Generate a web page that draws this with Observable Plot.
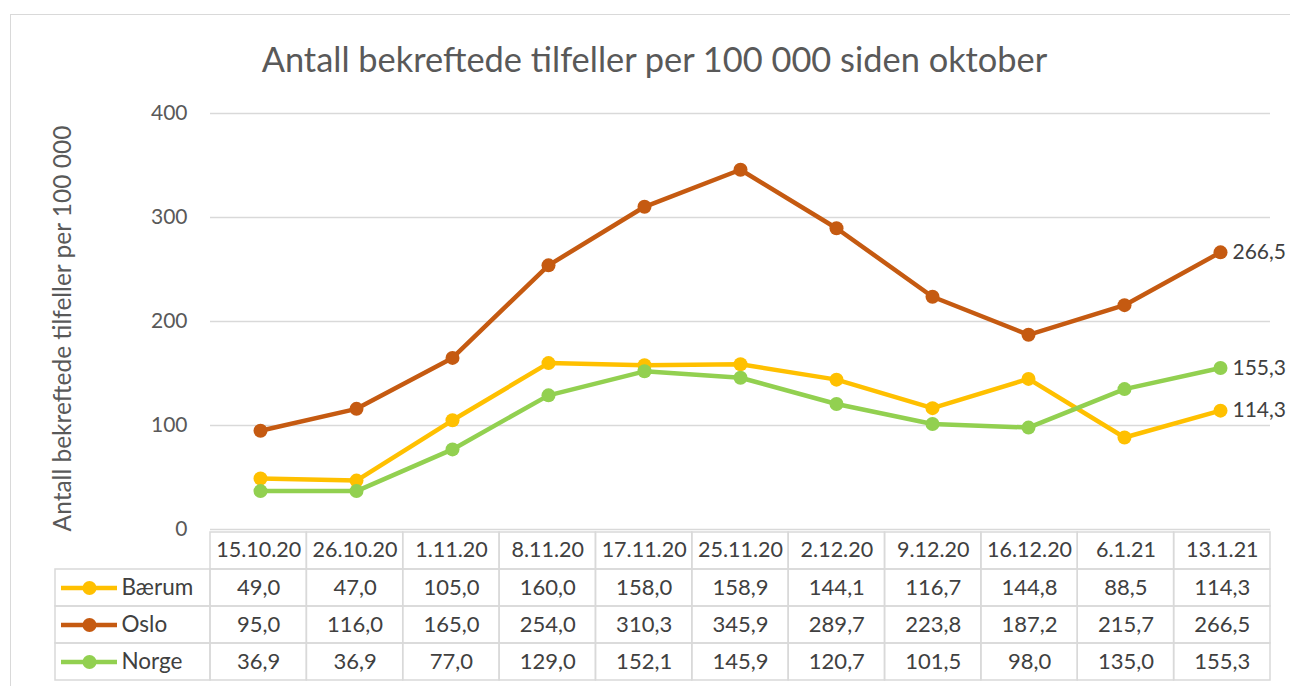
<!DOCTYPE html>
<html>
<head>
<meta charset="utf-8">
<script src="https://cdn.jsdelivr.net/npm/d3@7"></script>
<script src="https://cdn.jsdelivr.net/npm/@observablehq/plot@0.6"></script>
<style>
  html, body { margin: 0; padding: 0; background: #fff; }
  #wrap { position: relative; width: 1290px; height: 686px; overflow: hidden; font-family: Lato, sans-serif; }
  #frame { position: absolute; left: 10px; top: 14px; width: 1400px; height: 800px; border: 1.5px solid #d9d9d9; box-sizing: border-box; }
  #title { position: absolute; left: 0; top: 39px; width: 1309px; text-align: center; font-size: 34.4px; line-height: 40px; color: #595959; font-weight: 400; }
  #chart { position: absolute; left: 0; top: 90px; }
  #table { position: absolute; left: 0; top: 529px; }
</style>
</head>
<body>
<div id="wrap">
  <div id="frame"></div>
  <div id="title">Antall bekreftede tilfeller per 100 000 siden oktober</div>
  <div id="chart"></div>
  <div id="table"></div>
</div>
<script>
const dates = ["15.10.20","26.10.20","1.11.20","8.11.20","17.11.20","25.11.20","2.12.20","9.12.20","16.12.20","6.1.21","13.1.21"];
const series = ["Bærum","Oslo","Norge"];
const baerum = [49.0,47.0,105.0,160.0,158.0,158.9,144.1,116.7,144.8,88.5,114.3];
const oslo   = [95.0,116.0,165.0,254.0,310.3,345.9,289.7,223.8,187.2,215.7,266.5];
const norge  = [36.9,36.9,77.0,129.0,152.1,145.9,120.7,101.5,98.0,135.0,155.3];
const colors = ["#FFC000","#C55A11","#92D050"];
const yTicks = [0,100,200,300,400];
const yLabel = "Antall bekreftede tilfeller per 100 000";

const values = {"Bærum": baerum, "Oslo": oslo, "Norge": norge};
const data = series.flatMap(s => dates.map((d, i) => ({series: s, date: d, i, value: values[s][i]})));
const fmt = v => v.toFixed(1).replace(".", ",");

const W = 1290;
const mLeft = 210, mRight = 20;
const pxPerCol = (W - mLeft - mRight) / dates.length;

const chart = Plot.plot({
  width: W, height: 450,
  marginLeft: mLeft, marginRight: mRight, marginTop: 23, marginBottom: 11,
  style: {fontFamily: "Lato, sans-serif", fontSize: "21px", color: "#595959", background: "transparent", overflow: "visible"},
  x: {type: "point", domain: dates, padding: 0.5, axis: null},
  y: {domain: [0, 400], ticks: yTicks, label: null},
  color: {domain: series, range: colors},
  marks: [
    Plot.gridY(yTicks, {stroke: "#d9d9d9", strokeOpacity: 1, strokeWidth: 1.5}),
    Plot.axisY(yTicks, {tickSize: 0, tickPadding: 23, fontSize: 21, label: null, fill: "#595959"}),
    Plot.text([yLabel], {frameAnchor: "left", textAnchor: "middle", rotate: -90, dx: -147, dy: 7, fontSize: 24.5, fill: "#595959"}),
    Plot.line(data, {x: "date", y: "value", z: "series", stroke: "series", strokeWidth: 4.5}),
    Plot.dot(data, {x: "date", y: "value", fill: "series", r: 7}),
    Plot.text(data, Plot.selectLast({x: "date", y: "value", z: "series", text: d => fmt(d.value), dx: 12, textAnchor: "start", fontSize: 21, fill: "#404040"}))
  ]
});
document.getElementById("chart").appendChild(chart);

// data table below the chart
const legendPx = 155;
const L = legendPx / pxPerCol;
const headerKey = " ";
const headerCells = dates.map((d, i) => ({date: d, i}));
const legendCells = series.map(s => ({series: s}));
const tbl = Plot.plot({
  width: W, height: 155,
  marginLeft: mLeft - legendPx, marginRight: mRight, marginTop: 1, marginBottom: 3,
  style: {fontFamily: "Lato, sans-serif", fontSize: "22px", background: "transparent", overflow: "visible"},
  x: {domain: [-L, dates.length], axis: null},
  y: {type: "band", domain: [headerKey, ...series], padding: 0, axis: null},
  color: {domain: series, range: colors},
  marks: [
    Plot.barX(headerCells, {x1: d => d.i, x2: d => d.i + 1, y: () => headerKey, fill: "none", stroke: "#d9d9d9", strokeWidth: 1.5}),
    Plot.barX(data, {x1: d => d.i, x2: d => d.i + 1, y: "series", fill: "none", stroke: "#d9d9d9", strokeWidth: 1.5}),
    Plot.barX(legendCells, {x1: () => -L, x2: () => 0, y: "series", fill: "none", stroke: "#d9d9d9", strokeWidth: 1.5}),
    Plot.text(headerCells, {x: d => d.i + 0.5, y: () => headerKey, text: "date", fill: "#404040", fontSize: 21.5, dy: -1}),
    Plot.text(data, {x: d => d.i + 0.5, y: "series", text: d => fmt(d.value), fill: "#404040", fontSize: 22}),
    Plot.ruleY(legendCells, {y: "series", x1: () => -L + 6 / pxPerCol, x2: () => -L + 62 / pxPerCol, stroke: "series", strokeWidth: 4.5}),
    Plot.dot(legendCells, {y: "series", x: () => -L + 34 / pxPerCol, fill: "series", r: 7}),
    Plot.text(legendCells, {y: "series", x: () => -L + 66 / pxPerCol, text: "series", textAnchor: "start", fill: "#404040", fontSize: 22.5})
  ]
});
document.getElementById("table").appendChild(tbl);
</script>
</body>
</html>
